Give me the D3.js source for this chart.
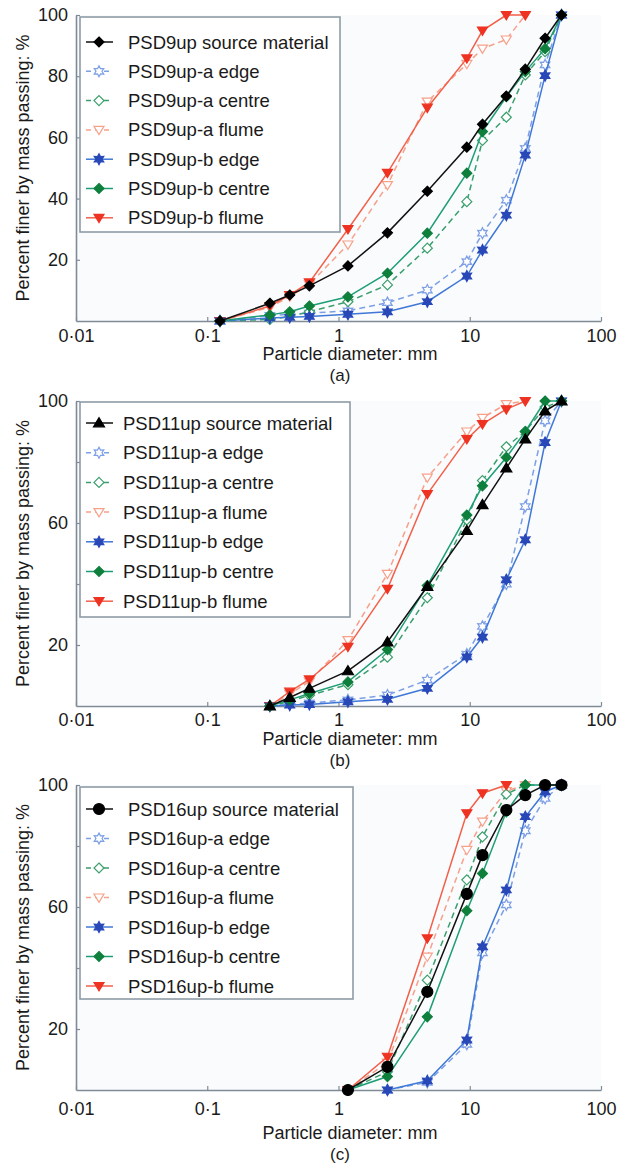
<!DOCTYPE html>
<html><head><meta charset="utf-8">
<script src="https://cdn.jsdelivr.net/npm/d3@7"></script>
<style>
body{margin:0;background:#fff}
svg text{font-family:"Liberation Sans",Arial,Helvetica,sans-serif;fill:#1a1a1a}
</style>
</head><body>
<svg id="chart" width="624" height="1167"></svg>
<script>
// ---------------- DATA ----------------
const xTickValues = [0.01, 0.1, 1, 10, 100];
const xTickLabels = ["0·01", "0·1", "1", "10", "100"];
const yTickValues = [20, 40, 60, 80, 100];
const yTickLabelsA = [20, 40, 60, 80, 100];
const yTickLabelsBC = [20, 60, 100];
const xTitle = "Particle diameter: mm";
const yTitle = "Percent finer by mass passing: %";
const captions = ["(a)", "(b)", "(c)"];

// Panel (a) PSD9up
const sieves9 = [0.125, 0.3, 0.425, 0.6, 1.18, 2.36, 4.75, 9.5, 12.5, 19, 26.5, 37.5, 50];
const names9 = ["PSD9up source material", "PSD9up-a edge", "PSD9up-a centre", "PSD9up-a flume", "PSD9up-b edge", "PSD9up-b centre", "PSD9up-b flume"];
const src9     = [0, 5.8, 8.5, 11.5, 18, 28.8, 42.4, 56.8, 64.3, 73.5, 82.3, 92.4, 100];
const aEdge9   = [0, 1.8, 2.2, 2.6, 3.3, 6.0, 10.1, 19.4, 28.7, 39.5, 56.4, 83.7, 100];
const aCentre9 = [0, 0.5, 1.5, 3.0, 6.3, 11.8, 23.8, 39, 59, 66.6, 80.4, 88, 100];
const aFlume9  = [0, 4.5, 8, 12, 25, 44.4, 71.7, 84, 89, 92, 100];
const bEdge9   = [0, 1.0, 1.2, 1.5, 2.2, 3.0, 6.3, 14.7, 23.2, 34.6, 54.2, 80.2, 100];
const bCentre9 = [0, 2, 3, 4.9, 7.9, 15.6, 28.7, 48.3, 61.9, 73.3, 81.5, 89, 100];
const bFlume9  = [0, 4.9, 8.5, 12.6, 30, 48.4, 69.7, 85.8, 94.9, 100, 100];

// Panel (b) PSD11up
const sieves11 = [0.3, 0.425, 0.6, 1.18, 2.36, 4.75, 9.5, 12.5, 19, 26.5, 37.5, 50];
const names11 = ["PSD11up source material", "PSD11up-a edge", "PSD11up-a centre", "PSD11up-a flume", "PSD11up-b edge", "PSD11up-b centre", "PSD11up-b flume"];
const src11     = [0, 2.8, 5.8, 11.5, 21, 39.2, 57.5, 66, 78, 87.5, 96.7, 100];
const aEdge11   = [0, 0.5, 1, 2, 3.6, 8.5, 17, 26.1, 40, 65.4, 93.5, 100];
const aCentre11 = [0, 1.5, 3.5, 7, 16, 35.5, 61, 73.9, 85, 90, 98, 100];
const aFlume11  = [0, 4, 8, 21.6, 43.3, 74.9, 90, 94.5, 99, 100];
const bEdge11   = [0, 0.3, 0.5, 1.4, 2.2, 5.8, 16.1, 22.6, 41.4, 54.5, 86.4, 100];
const bCentre11 = [0, 2, 4.1, 7.9, 18.5, 39.5, 62.6, 72.2, 81.5, 90, 100, 100];
const bFlume11  = [0, 4.7, 8.7, 19.4, 38.4, 69.5, 87.5, 92.4, 97.3, 100];

// Panel (c) PSD16up
const sieves16 = [1.18, 2.36, 4.75, 9.5, 12.5, 19, 26.5, 37.5, 50];
const names16 = ["PSD16up source material", "PSD16up-a edge", "PSD16up-a centre", "PSD16up-a flume", "PSD16up-b edge", "PSD16up-b centre", "PSD16up-b flume"];
const src16     = [0, 7.6, 32.2, 64.3, 77, 91.8, 96.7, 100, 100];
const aEdge16   = [null, 0, 2.5, 15, 45, 60.7, 85, 95.6, 100];
const aCentre16 = [0, 6, 36, 68.9, 83, 97, 100, 100, 100];
const aFlume16  = [0, 9, 43.7, 78.7, 88, 98, 100];
const bEdge16   = [null, 0, 3, 16.4, 47, 65.6, 89.6, 97.8, 100];
const bCentre16 = [0, 4.4, 24, 58.8, 71, 91.2, 100, 100, 100];
const bFlume16  = [0, 10.9, 49.7, 90.7, 97.3, 100];

// ---------------- STYLES ----------------
const styles = [
  {line:"#111", mfill:"#000", mstroke:"#000", dash:null, shape:"src"},
  {line:"#7d9fe6", mfill:"#fff", mstroke:"#7d9fe6", dash:"6,4", shape:"hex"},
  {line:"#3a9f6c", mfill:"#fff", mstroke:"#3a9f6c", dash:"6,4", shape:"diamond"},
  {line:"#f7a08a", mfill:"#fff", mstroke:"#f7a08a", dash:"6,4", shape:"tridown"},
  {line:"#3f78d6", mfill:"#2848b8", mstroke:"#2848b8", dash:null, shape:"hex"},
  {line:"#1e9e74", mfill:"#0f7f3c", mstroke:"#0f7f3c", dash:null, shape:"diamond"},
  {line:"#f2604a", mfill:"#ee3322", mstroke:"#ee3322", dash:null, shape:"tridown"}
];

function shapePath(shape) {
  if (shape === "diamond") { const r = 5; return `M0,${-r}L${r},0L0,${r}L${-r},0Z`; }
  if (shape === "tridown") { const r = 5; return `M${-r},${-r*0.7}L${r},${-r*0.7}L0,${r*0.95}Z`; }
  if (shape === "triup") { const r = 5.5; return `M${-r},${r*0.7}L${r},${r*0.7}L0,${-r*0.95}Z`; }
  if (shape === "circle") { const r = 5.5; return `M${r},0A${r},${r} 0 1,1 ${-r},0A${r},${r} 0 1,1 ${r},0Z`; }
  if (shape === "hex") {
    const R = 5.5, r = 3.0; let p = "";
    for (let i = 0; i < 12; i++) {
      const a = -Math.PI/2 + i*Math.PI/6; const rr = i % 2 ? r : R;
      p += (i ? "L" : "M") + (rr*Math.cos(a)).toFixed(2) + "," + (rr*Math.sin(a)).toFixed(2);
    }
    return p + "Z";
  }
  return "";
}

const panels = [
  {sieves: sieves9, names: names9, data: [src9, aEdge9, aCentre9, aFlume9, bEdge9, bCentre9, bFlume9],
   srcShape: "diamond", top: 15, bottom: 321, yLabels: yTickLabelsA, xPad: 8, titleY: 360, capY: 381,
   legend: {x: 80, y: 17, w: 260, h: 215, row0: 42, dy: 29.3, textX: 128}},
  {sieves: sieves11, names: names11, data: [src11, aEdge11, aCentre11, aFlume11, bEdge11, bCentre11, bFlume11],
   srcShape: "triup", top: 401, bottom: 706, yLabels: yTickLabelsBC, xPad: 7, titleY: 745, capY: 766,
   legend: {x: 80, y: 402, w: 270, h: 215, row0: 423, dy: 29.7, textX: 123}},
  {sieves: sieves16, names: names16, data: [src16, aEdge16, aCentre16, aFlume16, bEdge16, bCentre16, bFlume16],
   srcShape: "circle", top: 785, bottom: 1090, yLabels: yTickLabelsBC, xPad: 12, titleY: 1139, capY: 1160,
   legend: {x: 80, y: 787, w: 273, h: 212, row0: 809, dy: 29.5, textX: 128}}
];

const svg = d3.select("#chart");
const left = 76, right = 601;
const x = d3.scaleLog().domain([0.01, 100]).range([left, right]);
const axisColor = "#7f8c98";

panels.forEach((P, pi) => {
  const y = d3.scaleLinear().domain([0, 100]).range([P.bottom, P.top]);
  const g = svg.append("g");

  g.append("rect").attr("x", left).attr("y", P.top).attr("width", right - left)
    .attr("height", P.bottom - P.top).attr("fill", "#fafbfd");

  // axes
  const xa = d3.axisBottom(x).tickValues(xTickValues)
    .tickFormat((d, i) => xTickLabels[i]).tickSizeInner(-4).tickSizeOuter(0).tickPadding(P.xPad);
  const gx = g.append("g").attr("transform", `translate(0,${P.bottom})`).call(xa);
  const ya = d3.axisLeft(y).tickValues(yTickValues)
    .tickFormat(d => P.yLabels.includes(d) ? d : "").tickSizeInner(-4).tickSizeOuter(0).tickPadding(8);
  const gy = g.append("g").attr("transform", `translate(${left},0)`).call(ya);
  [gx, gy].forEach(a => {
    a.select(".domain").attr("stroke", axisColor).attr("stroke-width", 1.6);
    a.selectAll(".tick line").attr("stroke", axisColor).attr("stroke-width", 1.2);
    a.selectAll(".tick text").attr("font-size", 18).attr("fill", "#1a1a1a")
      .attr("font-family", '"Liberation Sans",Arial,sans-serif');
  });

  // titles
  g.append("text").attr("x", 350).attr("y", P.titleY).attr("text-anchor", "middle")
    .attr("font-size", 18).text(xTitle);
  g.append("text").attr("x", 340).attr("y", P.capY).attr("text-anchor", "middle")
    .attr("font-size", 17).text(captions[pi]);
  g.append("text").attr("transform", `translate(29,${(P.top + P.bottom) / 2}) rotate(-90)`)
    .attr("text-anchor", "middle").attr("font-size", 18).text(yTitle);

  const line = d3.line().x(d => x(d[0])).y(d => y(d[1]));
  const order = [3, 1, 2, 6, 4, 5, 0];
  order.forEach(si => {
    const st = styles[si];
    const vals = P.data[si];
    const pts = vals.map((v, i) => [P.sieves[i], v]).filter(d => d[1] !== null);
    const shape = st.shape === "src" ? P.srcShape : st.shape;
    g.append("path").datum(pts).attr("d", line).attr("fill", "none")
      .attr("stroke", st.line).attr("stroke-width", 1.5)
      .attr("stroke-dasharray", st.dash);
    g.selectAll(null).data(pts).enter().append("path")
      .attr("transform", d => `translate(${x(d[0])},${y(d[1])})`)
      .attr("d", shapePath(shape)).attr("fill", st.mfill)
      .attr("stroke", st.mstroke).attr("stroke-width", 1.2);
  });

  // legend
  const L = P.legend;
  g.append("rect").attr("x", L.x).attr("y", L.y).attr("width", L.w).attr("height", L.h)
    .attr("fill", "#fff").attr("stroke", "#8f9ba6").attr("stroke-width", 1.6);
  P.names.forEach((name, i) => {
    const st = styles[i];
    const cy = L.row0 + i * L.dy;
    const shape = st.shape === "src" ? P.srcShape : st.shape;
    g.append("line").attr("x1", L.x + 6).attr("x2", L.x + 33).attr("y1", cy).attr("y2", cy)
      .attr("stroke", st.line).attr("stroke-width", 1.5).attr("stroke-dasharray", st.dash ? "5,4" : null);
    g.append("path").attr("transform", `translate(${L.x + 19},${cy})`).attr("d", shapePath(shape))
      .attr("fill", st.mfill).attr("stroke", st.mstroke).attr("stroke-width", 1.2);
    g.append("text").attr("x", L.textX).attr("y", cy + 6.5).attr("font-size", 18.5).text(name);
  });
});
</script>
</body></html>
